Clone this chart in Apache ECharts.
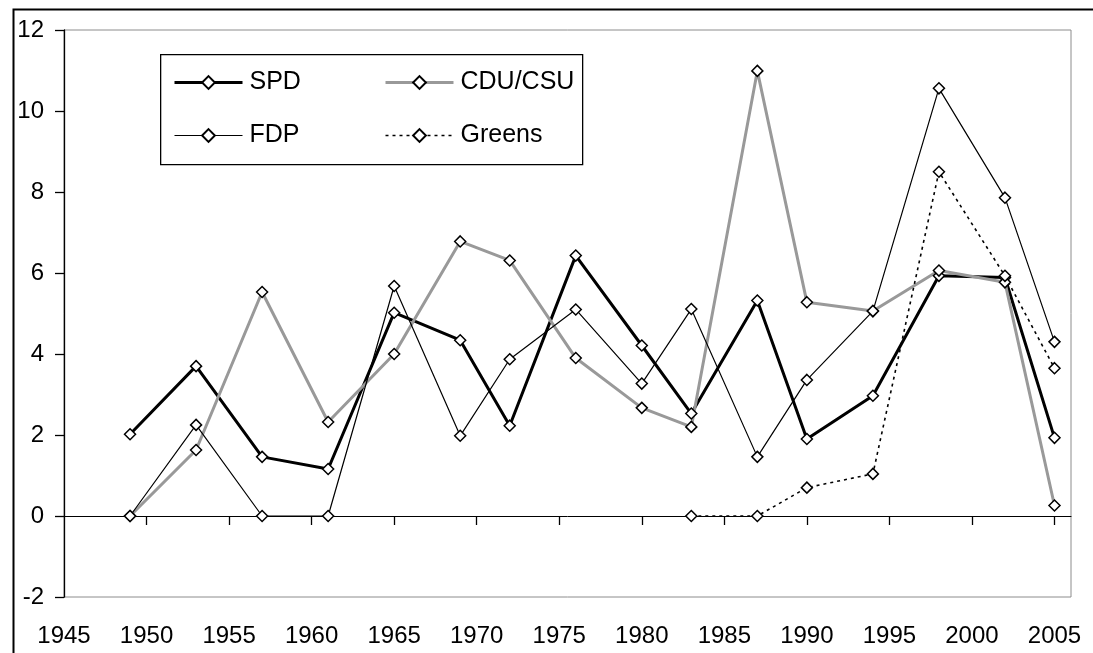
<!DOCTYPE html>
<html>
<head>
<meta charset="utf-8">
<script src="https://cdn.jsdelivr.net/npm/echarts@6/dist/echarts.min.js"></script>
<style>
  html, body { margin: 0; padding: 0; background: #fff; }
  #chart { width: 1093px; height: 653px; }
</style>
</head>
<body>
<div id="chart"></div>
<script>
// election years and values
const years = [1949, 1953, 1957, 1961, 1965, 1969, 1972, 1976, 1980, 1983, 1987, 1990, 1994, 1998, 2002, 2005];
const spd = [2.02, 3.70, 1.46, 1.16, 5.02, 4.34, 2.23, 6.43, 4.21, 2.53, 5.32, 1.90, 2.97, 5.93, 5.89, 1.93];
const cdu = [0, 1.63, 5.53, 2.32, 4.0, 6.78, 6.31, 3.90, 2.67, 2.20, 10.99, 5.28, 5.06, 6.06, 5.77, 0.26];
const fdp = [0, 2.25, 0, 0, 5.68, 1.98, 3.87, 5.10, 3.27, 5.11, 1.46, 3.36, 5.06, 10.56, 7.86, 4.30];
const greens = [null, null, null, null, null, null, null, null, null, 0, 0, 0.70, 1.04, 8.50, 5.93, 3.65];

const xLabels = [1945, 1950, 1955, 1960, 1965, 1970, 1975, 1980, 1985, 1990, 1995, 2000, 2005];
const xTicks = [1950, 1955, 1960, 1965, 1970, 1975, 1980, 1985, 1990, 1995, 2000, 2005];

const pairs = vals => years.map((y, i) => [y, vals[i]]).filter(p => p[1] !== null);

const chart = echarts.init(document.getElementById('chart'));

const fontFamily = '"Liberation Sans", Arial, sans-serif';

const styles = {
    'SPD': { color: '#000', width: 3, type: 'solid' },
    'CDU/CSU': { color: '#999', width: 3, type: 'solid' },
    'FDP': { color: '#000', width: 1.2, type: 'solid' },
    'Greens': { color: '#000', width: 1.6, type: [3, 4] }
};

const mkSeries = (name, vals) => ({
    name: name,
    type: 'line',
    data: pairs(vals),
    xAxisIndex: 0,
    symbol: 'diamond',
    symbolSize: 11,
    showAllSymbol: true,
    lineStyle: styles[name],
    itemStyle: { color: '#fff', borderColor: '#000', borderWidth: 1.5 }
});

const legendItem = name => ({ name: name, lineStyle: styles[name] });

const legendBase = {
    orient: 'vertical', top: 70, padding: 0,
    itemWidth: 68, itemHeight: 16, itemGap: 28, z: 10,
    textStyle: { fontSize: 25, color: '#000', fontFamily: fontFamily, padding: [0, 0, 0, 2] }
};

const option = {
    animation: false,
    textStyle: { fontFamily: fontFamily },
    grid: {
        left: 64, top: 30, width: 1007, height: 567,
        show: true, borderColor: '#8c8c8c', borderWidth: 1, backgroundColor: '#fff'
    },
    graphic: [
        {
            type: 'rect', left: 11, top: 7, z: -10,
            shape: { width: 1200, height: 800 },
            style: { fill: 'none', stroke: '#000', lineWidth: 2 }
        },
        {
            type: 'rect', left: 160, top: 54, z: 5,
            shape: { width: 422, height: 110 },
            style: { fill: '#fff', stroke: '#000', lineWidth: 1.3 }
        }
    ],
    legend: [
        Object.assign({}, legendBase, { left: 173, data: [legendItem('SPD'), legendItem('FDP')] }),
        Object.assign({}, legendBase, { left: 384, data: [legendItem('CDU/CSU'), legendItem('Greens')] })
    ],
    xAxis: [
        {
            type: 'value', position: 'bottom',
            min: 1945, max: 2006, interval: 5,
            axisLine: { show: false, onZero: false },
            axisTick: { show: false },
            splitLine: { show: false },
            axisLabel: {
                customValues: xLabels,
                formatter: v => String(v),
                fontSize: 24, color: '#000', margin: 27, fontFamily: fontFamily
            }
        },
        {
            type: 'value', position: 'top',
            min: 1945, max: 2006, interval: 5,
            axisLine: { show: true, onZero: true, lineStyle: { color: '#000', width: 1 } },
            axisTick: { show: true, inside: true, length: 9, customValues: xTicks, lineStyle: { color: '#000', width: 1.3 } },
            splitLine: { show: false },
            axisLabel: { show: false }
        }
    ],
    yAxis: {
        type: 'value', min: -2, max: 12, interval: 2,
        axisLine: { show: true, lineStyle: { color: '#000', width: 1.3 } },
        axisTick: { show: true, length: 9, lineStyle: { color: '#000', width: 1.3 } },
        splitLine: { show: false },
        axisLabel: { fontSize: 24, color: '#000', margin: 20, fontFamily: fontFamily }
    },
    series: [
        mkSeries('SPD', spd),
        mkSeries('CDU/CSU', cdu),
        mkSeries('FDP', fdp),
        mkSeries('Greens', greens)
    ]
};

chart.setOption(option);
</script>
</body>
</html>
